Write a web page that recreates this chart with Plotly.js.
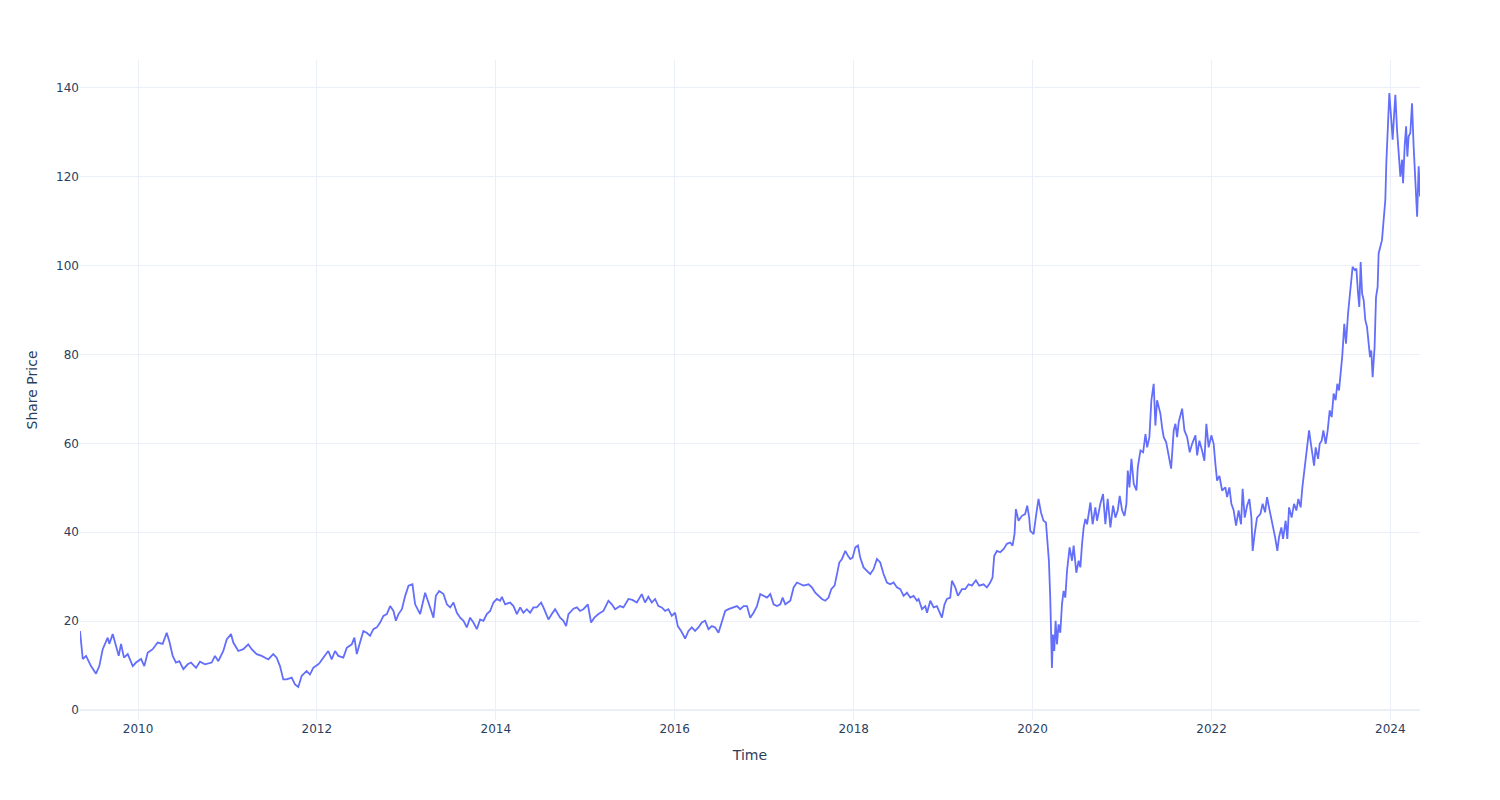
<!DOCTYPE html>
<html>
<head>
<meta charset="utf-8">
<script src="https://cdn.plot.ly/plotly-3.0.1.min.js"></script>
<style>html,body{margin:0;padding:0;background:#fff;}#chart{width:1500px;height:800px;}</style>
</head>
<body>
<div id="chart"></div>
<script>
// Time as decimal years
const years = [
2009.351,2009.382,2009.419,2009.474,2009.530,2009.567,2009.605,2009.661,2009.679,2009.717,
2009.754,2009.784,2009.810,2009.843,2009.885,2009.941,2009.978,2010.034,2010.070,2010.108,
2010.164,2010.220,2010.276,2010.321,2010.350,2010.388,2010.425,2010.462,2010.507,2010.556,
2010.593,2010.649,
2010.693,2010.749,2010.824,2010.861,2010.898,2010.954,2010.992,2011.040,2011.066,2011.122,
2011.178,2011.233,2011.271,2011.327,2011.383,2011.457,2011.513,2011.551,2011.588,2011.625,
2011.663,2011.719,2011.756,2011.793,2011.830,2011.886,2011.923,2011.960,2012.016,
2012.035,2012.072,2012.128,2012.166,2012.203,2012.240,2012.296,2012.334,2012.390,2012.419,
2012.446,2012.482,2012.519,2012.557,2012.594,2012.631,2012.669,2012.706,2012.743,2012.781,
2012.818,2012.855,2012.882,2012.911,2012.949,2012.986,2013.023,2013.067,2013.097,2013.153,
2013.172,2013.209,2013.246,2013.302,2013.329,2013.366,
2013.414,2013.452,2013.489,2013.526,2013.564,2013.601,2013.638,2013.675,2013.712,2013.749,
2013.787,2013.824,2013.861,2013.899,2013.936,2013.973,2014.011,2014.048,2014.067,2014.104,
2014.160,2014.197,2014.235,2014.272,2014.308,2014.346,2014.383,2014.420,2014.458,2014.506,
2014.532,2014.588,2014.626,2014.663,
2014.719,2014.756,2014.786,2014.812,2014.868,2014.906,2014.942,2014.979,2015.029,2015.065,
2015.102,2015.147,2015.203,2015.259,2015.297,2015.334,2015.390,2015.427,2015.483,2015.527,
2015.577,2015.632,2015.669,2015.706,2015.744,2015.781,2015.818,2015.856,2015.893,2015.930,
2015.968,2016.005,
2016.035,2016.072,2016.117,2016.154,2016.192,2016.228,2016.265,2016.303,2016.340,2016.377,
2016.415,2016.452,2016.489,2016.527,2016.564,2016.601,2016.657,2016.695,2016.732,2016.769,
2016.807,2016.843,2016.880,2016.918,2016.955,2016.992,2017.030,2017.067,2017.104,2017.142,
2017.179,2017.205,2017.235,2017.291,2017.328,2017.365,
2017.439,2017.495,2017.533,2017.570,2017.607,2017.645,2017.682,2017.719,2017.749,2017.786,
2017.813,2017.839,2017.869,2017.906,2017.936,2017.962,2017.988,2018.018,2018.048,2018.073,
2018.110,2018.149,2018.185,2018.222,2018.260,2018.297,2018.334,2018.372,2018.409,2018.446,
2018.484,2018.521,2018.558,2018.596,2018.633,2018.670,2018.708,
2018.726,2018.764,2018.801,2018.820,2018.857,2018.894,2018.931,2018.957,2018.987,2019.016,
2019.043,2019.080,2019.099,2019.136,2019.166,2019.211,2019.248,2019.285,2019.322,2019.367,
2019.404,2019.452,2019.490,2019.527,2019.553,2019.572,2019.602,2019.639,2019.676,2019.714,
2019.751,2019.777,2019.799,2019.814,2019.844,2019.882,2019.918,2019.941,2019.963,2019.975,
2020.012,
2020.042,2020.067,2020.094,2020.123,2020.150,2020.168,2020.183,2020.198,2020.209,2020.217,
2020.228,2020.243,2020.258,2020.273,2020.291,2020.310,2020.329,2020.347,2020.366,2020.385,
2020.414,2020.441,2020.459,2020.489,2020.515,2020.534,2020.553,2020.571,2020.590,2020.609,
2020.646,2020.671,2020.701,2020.720,2020.757,2020.787,2020.813,2020.839,2020.869,2020.899,
2020.925,2020.951,2020.973,2021.000,2021.026,2021.048,2021.063,2021.082,2021.104,2021.130,
2021.160,2021.175,2021.205,2021.235,2021.261,
2021.280,2021.305,2021.327,2021.353,2021.372,2021.391,2021.409,2021.428,2021.447,2021.465,
2021.492,2021.521,2021.548,2021.577,2021.596,2021.615,2021.633,2021.671,2021.697,2021.727,
2021.756,2021.783,2021.820,2021.839,2021.864,2021.894,2021.920,2021.942,2021.968,2021.998,
2022.024,2022.043,2022.062,2022.088,2022.118,2022.155,2022.174,2022.200,2022.222,2022.248,
2022.274,2022.303,2022.330,2022.348,2022.371,2022.398,2022.423,2022.446,2022.460,2022.482,
2022.509,2022.546,2022.572,
2022.599,2022.621,2022.643,2022.669,2022.692,2022.711,2022.736,2022.755,2022.781,2022.800,
2022.829,2022.848,2022.867,2022.896,2022.923,2022.949,2022.971,2022.997,2023.016,2023.038,
2023.061,2023.091,2023.109,2023.128,2023.147,2023.165,2023.192,2023.210,2023.232,2023.251,
2023.277,2023.299,2023.322,2023.344,2023.366,2023.388,2023.407,2023.426,2023.444,2023.463,
2023.485,2023.504,2023.527,2023.541,2023.560,2023.578,2023.601,2023.620,2023.639,2023.653,
2023.668,2023.684,2023.702,2023.720,2023.739,2023.757,2023.773,2023.787,2023.802,2023.824,
2023.840,2023.858,2023.869,2023.888,2023.907,2023.925,2023.944,2023.955,2023.974,2023.989,
2024.008,2024.026,2024.041,2024.056,2024.075,2024.093,2024.112,2024.131,2024.142,2024.160,
2024.176,2024.190,2024.204,2024.223,2024.242,2024.260,2024.280,2024.299,2024.316,2024.331
];

// Share price values
const prices = [
17.8,11.5,12.2,9.9,8.2,9.9,13.7,16.3,14.9,17.1,
14.4,12.2,14.9,11.8,12.6,9.9,10.7,11.5,9.9,12.9,
13.7,15.2,14.9,17.4,15.5,12.2,10.7,11.0,9.2,10.3,
10.7,9.5,
10.9,10.3,10.7,12.2,11.0,13.3,15.9,17.1,15.2,13.3,
13.7,14.8,13.7,12.6,12.2,11.4,12.6,11.8,9.9,6.9,
6.9,7.3,5.8,5.2,7.7,8.8,8.0,9.5,10.3,
10.7,11.8,13.3,11.4,13.3,12.2,11.8,14.0,14.8,16.3,
12.6,15.2,17.8,17.4,16.7,18.2,18.6,19.7,21.2,21.6,
23.4,22.3,20.1,21.6,22.7,25.7,28.0,28.3,23.8,21.6,
23.1,26.4,24.2,20.8,25.7,26.8,
26.1,23.8,23.1,24.2,21.9,20.8,20.1,18.6,20.8,19.7,
18.2,20.4,20.1,21.6,22.3,24.2,25.0,24.6,25.5,23.8,
24.2,23.4,21.6,23.1,21.9,22.7,21.9,23.1,23.1,24.2,
23.1,20.4,21.6,22.7,
20.8,20.1,18.9,21.6,22.8,23.1,22.3,22.7,23.8,19.7,
20.8,21.6,22.3,24.6,23.8,22.7,23.4,23.1,25.0,24.8,
24.2,26.1,24.2,25.5,24.2,25.0,23.4,23.1,22.3,22.7,
21.2,21.9,
18.9,17.8,16.1,17.8,18.6,17.8,18.6,19.7,20.1,18.2,
18.9,18.6,17.4,19.7,22.3,22.7,23.1,23.4,22.7,23.4,
23.4,20.8,21.9,23.4,26.1,25.7,25.3,26.1,23.8,23.4,
23.8,25.3,23.8,24.6,27.6,28.7,
28.0,28.3,27.6,26.4,25.7,25.0,24.6,25.3,27.2,28.0,
30.6,33.2,34.0,35.8,34.7,34.0,34.3,36.6,37.0,34.3,
32.1,31.3,30.6,31.7,34.0,33.2,30.6,28.7,28.3,28.7,
27.6,27.2,25.7,26.4,25.3,25.7,24.6,
25.0,22.7,23.4,21.9,24.6,23.1,23.4,22.3,20.8,23.8,
25.0,25.3,29.1,27.6,25.7,27.2,27.2,28.3,28.0,29.2,
28.0,28.3,27.6,28.7,29.8,34.7,35.8,35.5,36.2,37.4,
37.7,37.0,39.6,45.2,42.6,43.7,44.1,46.0,43.3,40.3,
39.6,
44.1,47.5,44.5,42.6,42.2,37.4,33.6,25.3,16.3,9.5,
17.0,13.3,20.1,14.8,19.3,17.4,23.8,26.8,25.3,31.3,
36.6,33.6,37.0,30.9,33.6,32.1,37.4,41.1,43.0,41.8,
46.7,41.8,45.6,42.6,46.4,48.6,41.8,47.5,41.1,46.0,
43.3,44.9,48.2,44.9,43.7,46.4,53.9,50.1,56.5,50.9,
49.4,54.6,58.4,58.0,62.1,
59.1,61.4,69.7,73.4,64.0,69.7,68.5,66.7,63.6,61.4,
60.3,56.9,54.3,62.9,64.4,61.4,64.8,67.8,62.9,61.4,
58.0,59.9,61.8,57.3,60.6,58.4,56.1,64.4,59.1,61.8,
59.9,55.4,51.6,52.7,49.4,50.1,47.9,50.1,46.4,44.9,
41.5,44.9,41.8,49.8,43.3,46.0,47.5,43.3,35.8,39.6,
43.3,44.1,46.4,
44.5,47.9,45.6,43.3,41.1,38.9,35.8,38.9,41.1,38.5,
42.6,38.5,45.6,43.3,46.4,44.9,47.5,45.6,50.1,53.9,
57.6,62.9,60.3,57.6,55.0,59.1,56.5,59.9,60.6,62.9,
59.9,62.9,67.4,65.9,71.2,69.7,73.4,71.9,75.7,79.8,
86.9,82.4,89.2,92.2,95.2,99.7,99.0,99.3,93.7,90.7,
100.8,93.7,92.2,87.7,86.2,82.4,79.4,80.9,74.9,81.7,
92.9,95.2,102.7,104.2,105.7,110.2,114.7,123.0,132.8,138.8,
133.5,128.3,133.5,138.4,130.5,124.5,120.0,123.8,118.5,126.8,
131.3,124.5,129.0,129.8,136.5,126.8,117.7,111.0,122.3,115.5
];

const xTitle = "Time";
const yTitle = "Share Price";

function decimalYearToDate(y) {
  const yr = Math.floor(y);
  const start = Date.UTC(yr, 0, 1);
  const end = Date.UTC(yr + 1, 0, 1);
  return new Date(start + (y - yr) * (end - start)).toISOString().slice(0, 19).replace('T', ' ');
}
const dates = years.map(decimalYearToDate);

const grid = "#EBF0F8";
const trace = {
  type: "scatter",
  mode: "lines",
  x: dates,
  y: prices,
  line: { color: "#636efa", width: 1.8 },
  showlegend: false
};

const layout = {
  width: 1500,
  height: 800,
  margin: { t: 60, l: 80, r: 80, b: 80 },
  paper_bgcolor: "#ffffff",
  plot_bgcolor: "#ffffff",
  font: { family: "\"DejaVu Sans\", verdana, arial, sans-serif", size: 12, color: "#2a3f5f" },
  xaxis: {
    type: "date",
    title: { text: xTitle, standoff: 15 },
    gridcolor: grid,
    showline: false,
    zeroline: false,
    ticks: "",
    automargin: true
  },
  yaxis: {
    title: { text: yTitle, standoff: 15 },
    gridcolor: grid,
    showline: false,
    zerolinecolor: grid,
    zerolinewidth: 2,
    ticks: "",
    automargin: true
  }
};

Plotly.newPlot("chart", [trace], layout, { displayModeBar: false, responsive: false });
</script>
</body>
</html>
